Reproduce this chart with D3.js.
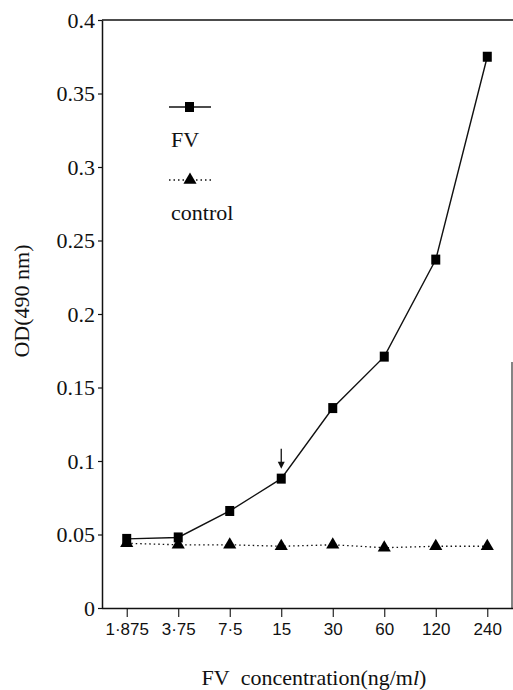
<!DOCTYPE html>
<html>
<head>
<meta charset="utf-8">
<script src="https://cdn.jsdelivr.net/npm/d3@7"></script>
<style>
  html, body { margin: 0; padding: 0; background: #fff; }
  svg { display: block; }
</style>
</head>
<body>
<script>
// ---- data ----
const categories = ["1·875", "3·75", "7·5", "15", "30", "60", "120", "240"];
const fvValues = [0.047, 0.048, 0.066, 0.088, 0.136, 0.171, 0.237, 0.375];
const controlValues = [0.044, 0.043, 0.043, 0.042, 0.043, 0.041, 0.042, 0.042];
const yTicks = [0, 0.05, 0.1, 0.15, 0.2, 0.25, 0.3, 0.35, 0.4];
const yTickLabels = ["0", "0.05", "0.1", "0.15", "0.2", "0.25", "0.3", "0.35", "0.4"];
const seriesNames = ["FV", "control"];
const arrowCategory = "15";

const SERIF = "'Liberation Serif', 'Times New Roman', 'DejaVu Serif', serif";
const SANS = "'Liberation Sans', Arial, sans-serif";

const W = 513, H = 690;
const mLeft = 102, mRight = 512, mTop = 20, mBottom = 608;

const svg = d3.select("body").append("svg").attr("width", W).attr("height", H);

const x = d3.scalePoint().domain(categories).range([mLeft, mRight]).padding(0.48);
const y = d3.scaleLinear().domain([0, 0.4]).range([mBottom, mTop]);

// frame: top border and partial right border
svg.append("line").attr("x1", mLeft).attr("x2", W).attr("y1", mTop).attr("y2", mTop)
  .attr("stroke", "#111").attr("stroke-width", 1.3);
svg.append("line").attr("x1", mRight).attr("x2", mRight).attr("y1", 362).attr("y2", mBottom)
  .attr("stroke", "#333").attr("stroke-width", 1.2);

// y axis
const yAxis = d3.axisLeft(y).tickValues(yTicks)
  .tickFormat((d, i) => yTickLabels[i]).tickSize(4).tickPadding(3).tickSizeOuter(0);
const gy = svg.append("g").attr("transform", `translate(${mLeft},0)`).call(yAxis);
gy.attr("font-family", null).attr("font-size", null);
gy.select(".domain").attr("stroke", "#111").attr("stroke-width", 1.5);
gy.selectAll(".tick line").attr("stroke", "#111").attr("stroke-width", 1.2);
gy.selectAll(".tick text").style("font-family", SERIF).style("font-size", "22px")
  .attr("fill", "#111").attr("dy", "0.34em");

// x axis
const xAxis = d3.axisBottom(x).tickSize(9).tickPadding(6).tickSizeOuter(0);
const gx = svg.append("g").attr("transform", `translate(0,${mBottom})`).call(xAxis);
gx.attr("font-family", null).attr("font-size", null);
gx.select(".domain").attr("d", `M${mLeft},0.5H${W}`).attr("stroke", "#111").attr("stroke-width", 1.4);
gx.selectAll(".tick line").attr("stroke", "#111").attr("stroke-width", 1.1);
gx.selectAll(".tick text").style("font-family", SANS).style("font-size", "17px").attr("fill", "#111");

// axis titles
svg.append("text").style("font-family", SERIF).style("font-size", "22px").attr("fill", "#111")
  .attr("text-anchor", "middle")
  .attr("transform", `translate(29,301) rotate(-90)`)
  .text("OD(490 nm)");

const xt = svg.append("text").style("font-family", SERIF).style("font-size", "22px").attr("fill", "#111")
  .attr("text-anchor", "middle").attr("x", 314).attr("y", 685);
xt.append("tspan").text("FV\u00a0 concentration(ng/m");
xt.append("tspan").style("font-style", "italic").text("l");
xt.append("tspan").text(")");

// lines
const fvData = categories.map((c, i) => ({ c, v: fvValues[i] }));
const ctData = categories.map((c, i) => ({ c, v: controlValues[i] }));
const line = d3.line().x(d => x(d.c)).y(d => y(d.v));

svg.append("path").datum(ctData).attr("d", line)
  .attr("fill", "none").attr("stroke", "#111").attr("stroke-width", 1.3)
  .attr("stroke-dasharray", "1.5,3");
svg.append("path").datum(fvData).attr("d", line)
  .attr("fill", "none").attr("stroke", "#111").attr("stroke-width", 1.4);

// markers
const tri = d3.symbol().type(d3.symbolTriangle).size(75);
svg.selectAll(".tri").data(ctData).enter().append("path")
  .attr("d", tri).attr("fill", "#000")
  .attr("transform", d => `translate(${x(d.c)},${y(d.v)})`);
svg.selectAll(".sq").data(fvData).enter().append("rect")
  .attr("x", d => x(d.c) - 4.5).attr("y", d => y(d.v) - 5)
  .attr("width", 9).attr("height", 10).attr("fill", "#000");

// arrow annotation
const ai = categories.indexOf(arrowCategory);
const ax = x(arrowCategory), ay = y(fvValues[ai]);
svg.append("line").attr("x1", ax).attr("x2", ax).attr("y1", ay - 30).attr("y2", ay - 16)
  .attr("stroke", "#111").attr("stroke-width", 1.3);
svg.append("path").attr("d", `M${ax - 3.5},${ay - 17}L${ax + 3.5},${ay - 17}L${ax},${ay - 10}Z`)
  .attr("fill", "#111");

// legend
const lg = svg.append("g");
lg.append("line").attr("x1", 169).attr("x2", 211).attr("y1", 107).attr("y2", 107)
  .attr("stroke", "#111").attr("stroke-width", 1.4);
lg.append("rect").attr("x", 185).attr("y", 102).attr("width", 9).attr("height", 10).attr("fill", "#000");
lg.append("text").style("font-family", SERIF).style("font-size", "22px").attr("fill", "#111")
  .attr("x", 171).attr("y", 147).text(seriesNames[0]);
lg.append("line").attr("x1", 169).attr("x2", 211).attr("y1", 180).attr("y2", 180)
  .attr("stroke", "#111").attr("stroke-width", 1.3).attr("stroke-dasharray", "1.5,3");
lg.append("path").attr("d", tri).attr("fill", "#000").attr("transform", "translate(190,180)");
lg.append("text").style("font-family", SERIF).style("font-size", "22px").attr("fill", "#111")
  .attr("x", 171).attr("y", 220).text(seriesNames[1]);
</script>
</body>
</html>
